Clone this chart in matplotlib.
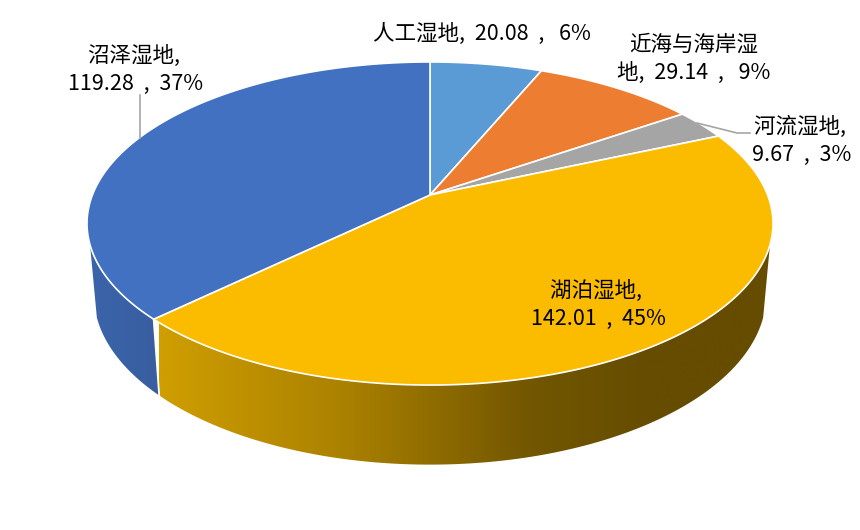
import numpy as np
import matplotlib
matplotlib.use("Agg")
import matplotlib.pyplot as plt
from matplotlib.patches import Polygon
from matplotlib.colors import LinearSegmentedColormap

plt.rcParams['font.family'] = ['Noto Sans CJK SC', 'DejaVu Sans']

# Data (clockwise from twelve o'clock)
names = ["人工湿地", "近海与海岸湿地", "河流湿地", "湖泊湿地", "沼泽湿地"]
values = [20.08, 29.14, 9.67, 142.01, 119.28]
percents = [6, 9, 3, 45, 37]

# Style
colors = ["#5B9BD5", "#ED7D31", "#A5A5A5", "#FBBC00", "#4271C1"]
label_xy = [(482, 34), (694, 59), (802, 141), (598, 305), (136, 70)]
label_templates = ["{n},  {v}  ,   {p}%", "近海与海岸湿\n地,  {v}  ,   {p}%", "{n}, \n{v}  ,  {p}%",
                   "{n}, \n{v}  ,  {p}%", "{n}, \n{v}  ,  {p}%"]

# Projection of the tilted disc to pixels
CX, CY, A, B, K = 430.0, 195.0, 337.6, 156.5, 0.1765
ELL_CY = 223.5
VISIBLE = np.radians(107.6)  # angle from 12 o'clock at which the side wall starts


def top(t):
    X, Y = np.sin(t), np.cos(t)
    d = 1 + K * Y
    return CX + A * X / d, CY - B * Y / d


def bottom(t):
    x, y = top(t)
    return CX + (x - CX) * 0.98, 295 + (y - ELL_CY) * 1.05


fig = plt.figure(figsize=(8.6, 5.3), dpi=100, facecolor="white")
ax = fig.add_axes([0, 0, 1, 1])

edges = np.concatenate([[0], np.cumsum(values)]) / np.sum(values) * 2 * np.pi
lake_end = edges[4]


def side(t0, t1):
    t = np.linspace(t0, t1, 200)
    tx, ty = top(t)
    bx, by = bottom(t)
    return np.column_stack([np.r_[tx, bx[::-1]], np.r_[ty, by[::-1]]])


yellow_cm = LinearSegmentedColormap.from_list("y", [(0, "#CF9E00"), (0.30, "#AB8100"),
                                                    (0.60, "#735700"), (0.80, "#654C00"), (1, "#654C00")])
blue_cm = LinearSegmentedColormap.from_list("b", ["#3B64AB", "#385E9F"])

for (t0, t1, cm, x0, x1) in [(lake_end, 2 * np.pi - VISIBLE, blue_cm, 88, 159),
                             (VISIBLE, lake_end, yellow_cm, 159, 772)]:
    poly = Polygon(side(t0, t1), closed=True, facecolor="none", edgecolor="none")
    ax.add_patch(poly)
    grad = np.linspace(0, 1, 512).reshape(1, -1)
    im = ax.imshow(grad, cmap=cm, extent=(x0, x1, 480, 200), aspect="auto", zorder=1)
    im.set_clip_path(poly)

# Separator between the two visible side walls
tx, ty = top(lake_end)
bx, by = bottom(lake_end)
ax.plot([tx, bx], [ty, by], color="white", lw=1.3, zorder=2)

# Top face
for i, c in enumerate(colors):
    t = np.linspace(edges[i], edges[i + 1], 300)
    x, y = top(t)
    pts = np.column_stack([np.r_[CX, x], np.r_[CY, y]])
    ax.add_patch(Polygon(pts, closed=True, facecolor=c, edgecolor="white", lw=1.2,
                         joinstyle="round", zorder=3))

# Leader lines
ax.plot([140, 140], [95, 138], color="#A5A5A5", lw=1.2, zorder=4)
ax.plot([697, 737, 750], [123, 133, 133], color="#A5A5A5", lw=1.2, zorder=4)

# Labels
for n, v, p, tpl, (lx, ly) in zip(names, values, percents, label_templates, label_xy):
    ax.text(lx, ly, tpl.format(n=n, v=f"{v:.2f}", p=p), ha="center", va="center",
            fontsize=15.5, fontweight="medium", color="black", linespacing=1.32, zorder=5)

ax.set_xlim(0, 860)
ax.set_ylim(530, 0)
ax.axis("off")
fig.savefig("out.png", dpi=100, facecolor="white")
